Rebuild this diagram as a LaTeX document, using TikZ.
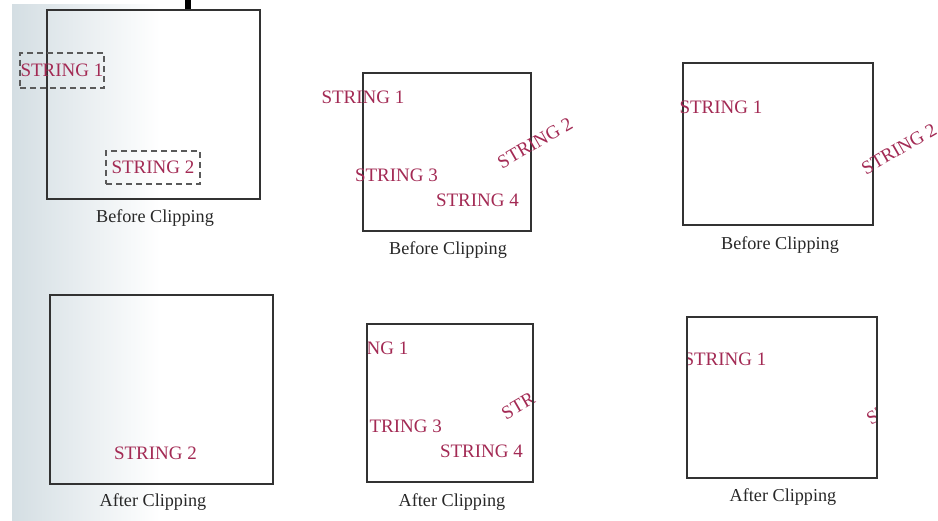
\documentclass[tikz,border=0pt]{standalone}
\usepackage{fontspec}
\setmainfont{Liberation Serif}
\definecolor{strcol}{RGB}{163,42,84}
\definecolor{capcol}{RGB}{40,40,40}
\definecolor{boxcol}{RGB}{50,50,50}
\definecolor{dashcol}{RGB}{90,90,90}
\definecolor{scanbg}{RGB}{212,222,227}
\begin{document}
\begin{tikzpicture}[x=1pt,y=-1pt,
  strtext/.style={text=strcol, font=\fontsize{19}{19}\selectfont, inner sep=0pt},
  caption/.style={text=capcol, font=\fontsize{18.2}{20}\selectfont, inner sep=0pt},
  winbox/.style={draw=boxcol, line width=1.3pt},
  dashbox/.style={draw=dashcol, dash pattern=on 6pt off 4pt, line width=1.1pt}
]
\useasboundingbox (0,0) rectangle (938,521);
\fill[white] (0,0) rectangle (938,521);
\shade[left color=scanbg, right color=white] (12,5) rectangle (160,521);
\fill[black] (185,0) rectangle (191,11);

% ---------- Panel 1: before ----------
\draw[winbox] (47,10) rectangle (260,199);
\node[strtext, dashbox, minimum width=84pt, minimum height=35pt] (p1s1) at (62,70.5) {STRING 1};
\node[strtext, dashbox, minimum width=94pt, minimum height=33pt] (p1s2) at (153,167.5) {STRING 2};
\node[caption] (p1c) at (155,218) {Before Clipping};

% ---------- Panel 2: before ----------
\draw[winbox] (363,73) rectangle (531,231);
\node[strtext] (p2s1) at (363,97) {STRING 1};
\node[strtext, rotate=30] (p2s2) at (535,143) {STRING 2};
\node[strtext] (p2s3) at (396.5,175) {STRING 3};
\node[strtext] (p2s4) at (477.5,200) {STRING 4};
\node[caption] (p2c) at (448,250) {Before Clipping};

% ---------- Panel 3: before ----------
\draw[winbox] (683,63) rectangle (873,225);
\node[strtext] (p3s1) at (721,107) {STRING 1};
\node[strtext, rotate=30] (p3s2) at (899,149) {STRING 2};
\node[caption] (p3c) at (780,245) {Before Clipping};

% ---------- Panel 4: after (all-or-none string clipping) ----------
\draw[winbox] (50,295) rectangle (273,484);
\node[strtext] (p4s2) at (155.5,453) {STRING 2};
\node[caption] (p4c) at (153,502) {After Clipping};

% ---------- Panel 5: after (character clipping) ----------
\node[strtext] (p5s1) at (367,348) {\phantom{STRI}NG 1};
\node[strtext, rotate=30] (p5s2) at (539,394) {STR\phantom{ING 2}};
\node[strtext] (p5s3) at (400.5,426) {\phantom{S}TRING 3};
\node[strtext] (p5s4) at (481.5,451) {STRING 4};
\draw[winbox] (367,324) rectangle (533,482);
\node[caption] (p5c) at (452,502) {After Clipping};

% ---------- Panel 6: after (exact clipping) ----------
\begin{scope}
  \clip (687,317) rectangle (877,478);
  \node[strtext] (p6s1) at (725,359) {STRING 1};
  \node[strtext, rotate=30] (p6s2) at (904,399) {STRING 2};
\end{scope}
\draw[winbox] (687,317) rectangle (877,478);
\node[caption] (p6c) at (783,497) {After Clipping};
\end{tikzpicture}
\end{document}
